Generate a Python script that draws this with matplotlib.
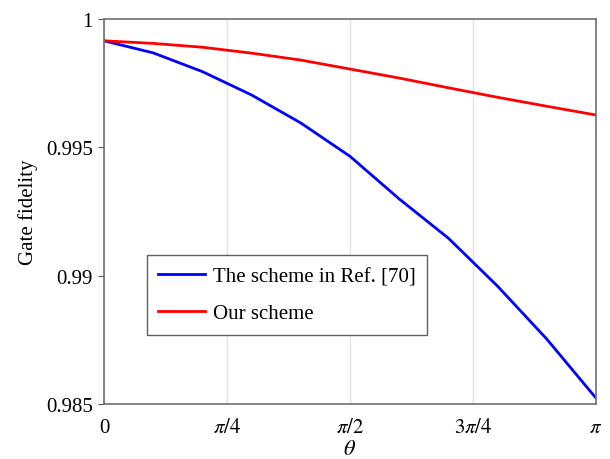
import numpy as np
import matplotlib
matplotlib.use("Agg")
import matplotlib.pyplot as plt

# theta sampled at k*pi/10
theta_steps = list(range(11))
ref70_fidelity = [0.99915, 0.99868, 0.99795, 0.99704, 0.99595, 0.99465,
                  0.99299, 0.99146, 0.98959, 0.98753, 0.98523]
our_fidelity = [0.99915, 0.99905, 0.99890, 0.99867, 0.99840, 0.99805,
                0.99770, 0.99732, 0.99695, 0.99660, 0.99626]
xtick_labels = ["0", r"$\pi/4$", r"$\pi/2$", r"$3\pi/4$", r"$\pi$"]
ytick_values = [0.985, 0.99, 0.995, 1.0]
ytick_labels = ["0.985", "0.99", "0.995", "1"]

plt.rcParams["font.family"] = ["Liberation Serif", "DejaVu Serif"]
plt.rcParams["mathtext.fontset"] = "stix"

theta = np.array(theta_steps) * np.pi / 10

fig = plt.figure(figsize=(6.1, 4.6), dpi=100)
ax = fig.add_axes([0.1705, 0.1196, 0.8065, 0.8369])

ax.plot(theta, ref70_fidelity, color="#0000ff", lw=2, label="The scheme in Ref. [70]")
ax.plot(theta, our_fidelity, color="#ff0000", lw=2, label="Our scheme")

ax.set_xlim(0, np.pi)
ax.set_ylim(0.985, 1.0)
ax.set_xticks(np.arange(5) * np.pi / 4)
ax.set_xticklabels(xtick_labels, fontsize=15)
ax.set_yticks(ytick_values)
ax.set_yticklabels(ytick_labels, fontsize=15)
ax.tick_params(axis="x", length=0, pad=10)
ax.tick_params(axis="y", direction="out", length=4, pad=4, color="#555555")
ax.xaxis.grid(True, color="#e3e3e3", lw=1)
ax.set_axisbelow(True)

for s in ax.spines.values():
    s.set_color("#707070")
    s.set_linewidth(1.2)

ax.set_xlabel(r"$\theta$", fontsize=16, labelpad=2)
ax.set_ylabel("Gate fidelity", fontsize=15, labelpad=6)

leg = ax.legend(loc="upper left", bbox_to_anchor=(0.0874, 0.387), fontsize=15,
                fancybox=False, framealpha=1, edgecolor="#606060",
                borderaxespad=0, handlelength=2.25, handletextpad=0.35,
                borderpad=0.55, labelspacing=0.85)
leg.get_frame().set_linewidth(1)

fig.savefig("out.png", dpi=100)
